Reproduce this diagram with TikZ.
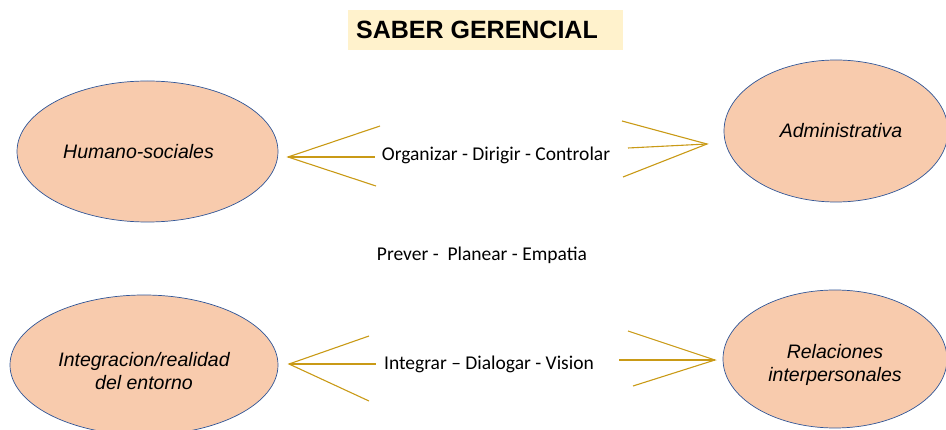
\documentclass[tikz,border=0pt]{standalone}
\usepackage{fontspec}
\setmainfont{Liberation Sans}
\newfontfamily\calibri{Carlito}
\usepackage{tikz}
\usetikzlibrary{shapes.geometric}
\definecolor{peach}{HTML}{F8CBAD}
\definecolor{rim}{HTML}{2F5597}
\definecolor{gold}{HTML}{C99A16}
\definecolor{cream}{HTML}{FFF2CC}
\tikzset{saber/.style = {ellipse, draw=rim, fill=peach, line width=0.7pt, inner sep=0pt,
  align=center, font=\fontsize{19.5}{23}\selectfont\itshape},
  fan/.style = {draw=gold, line width=1.1pt},
  lema/.style = {font=\calibri\fontsize{19.5}{23}\selectfont, inner sep=0pt}}

\begin{document}
\begin{tikzpicture}[x=1pt,y=-1pt]
  \useasboundingbox (0,0) rectangle (946,430);

  \node[fill=cream, minimum width=275, minimum height=40, font=\fontsize{25}{30}\selectfont\bfseries] (T) at (485.5,30) {\hspace*{-17pt}SABER GERENCIAL};

  \node[saber, minimum width=261, minimum height=141] (H) at (147.5,151.5) {\hspace*{-18pt}Humano-sociales};
  \node[saber, minimum width=224, minimum height=142] (A) at (836,131) {\hspace*{10pt}Administrativa};
  \node[saber, minimum width=268, minimum height=140] (I) at (144,365) {\rule{0pt}{27pt}Integracion/realidad\\del entorno};
  \node[saber, minimum width=224, minimum height=138] (R) at (835,359) {\rule{0pt}{27pt}Relaciones\\interpersonales};

  \node[lema] (L1) at (496,155) {Organizar - Dirigir - Controlar};
  \node[lema] (L2) at (482,255) {Prever -\ \ Planear - Empatia};
  \node[lema] (L3) at (489,364) {Integrar – Dialogar - Vision};

  \coordinate (h0) at (288,157);
  \coordinate (h1) at (380,126);
  \coordinate (h2) at (375,157);
  \coordinate (h3) at (376,186);
  \coordinate (a0) at (707,144);
  \coordinate (a1) at (622,121);
  \coordinate (a2) at (628,148);
  \coordinate (a3) at (623,177);
  \coordinate (i0) at (289,364);
  \coordinate (i1) at (369,336);
  \coordinate (i2) at (376,364);
  \coordinate (i3) at (369,401);
  \coordinate (r0) at (715,360);
  \coordinate (r1) at (628,331);
  \coordinate (r2) at (619,360);
  \coordinate (r3) at (633,386);

  \draw[fan] (h1) -- (h0) -- (h3);
  \draw[fan] (h0) -- (h2);
  \draw[fan] (a1) -- (a0) -- (a3);
  \draw[fan] (a0) -- (a2);
  \draw[fan] (i1) -- (i0) -- (i3);
  \draw[fan] (i0) -- (i2);
  \draw[fan] (r1) -- (r0) -- (r3);
  \draw[fan] (r0) -- (r2);
\end{tikzpicture}
\end{document}
